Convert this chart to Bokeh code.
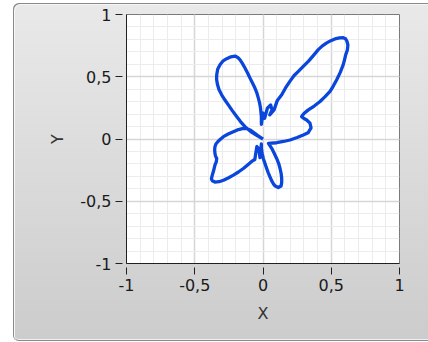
from bokeh.plotting import figure
from bokeh.models import Range1d, SingleIntervalTicker
from bokeh.embed import file_html
from bokeh.resources import INLINE

# Traced XY curve (closed butterfly-like loop), listed in drawing order
curve_x = [0.0, -0.04, -0.09, -0.132,
           -0.165, -0.193, -0.225, -0.254, -0.28, -0.303, -0.322, -0.334, -0.34, -0.339,
           -0.332, -0.315, -0.292, -0.266, -0.235, -0.205, -0.185, -0.168, -0.15, -0.132,
           -0.113, -0.095, -0.077, -0.059, -0.045, -0.034, -0.025, -0.018, -0.012, -0.012,
           0.0, 0.012, 0.032, 0.056, 0.066, 0.049, 0.081, 0.105,
           0.137, 0.165, 0.198, 0.228, 0.259, 0.295, 0.332, 0.37, 0.405, 0.435,
           0.467, 0.497, 0.527, 0.56, 0.588, 0.605, 0.615, 0.622, 0.618, 0.606,
           0.598, 0.588, 0.566, 0.54, 0.515, 0.491, 0.455, 0.418, 0.375, 0.332,
           0.3, 0.283, 0.3, 0.32, 0.344, 0.352, 0.33, 0.295, 0.25, 0.198,
           0.15, 0.1, 0.04,
           0.064, 0.082, 0.1, 0.115, 0.125, 0.133, 0.137, 0.137, 0.132, 0.112,
           0.09, 0.076, 0.062, 0.051, 0.038, 0.027, 0.014, 0.002, -0.006, -0.012,
           -0.012,
           -0.022, -0.03, -0.045, -0.06,
           -0.083, -0.115, -0.144, -0.18, -0.217, -0.255, -0.29, -0.322, -0.352, -0.372,
           -0.378, -0.372, -0.364, -0.358, -0.352, -0.342, -0.339, -0.348, -0.352, -0.354,
           -0.352, -0.345, -0.33, -0.31, -0.29, -0.255, -0.217, -0.18, -0.144, -0.12,
           -0.095, -0.065, -0.04, 0.0]
curve_y = [0.0, 0.025, 0.06, 0.099,
           0.14, 0.18, 0.228, 0.274, 0.315, 0.355, 0.395, 0.44, 0.48, 0.516,
           0.56, 0.597, 0.628, 0.645, 0.66, 0.666, 0.655, 0.635, 0.605, 0.57,
           0.53, 0.489, 0.45, 0.409, 0.37, 0.328, 0.29, 0.247, 0.18, 0.118,
           0.207, 0.167, 0.247, 0.274, 0.234, 0.194, 0.234, 0.31,
           0.355, 0.41, 0.465, 0.51, 0.543, 0.583, 0.623, 0.672, 0.718, 0.748,
           0.772, 0.79, 0.804, 0.812, 0.814, 0.805, 0.785, 0.755, 0.715, 0.677,
           0.64, 0.597, 0.535, 0.476, 0.425, 0.382, 0.34, 0.301, 0.265, 0.234,
           0.205, 0.18, 0.165, 0.153, 0.127, 0.09, 0.05, 0.032, 0.012, -0.008,
           -0.02, -0.03, -0.035,
           -0.075, -0.115, -0.156, -0.197, -0.237, -0.278, -0.317, -0.35, -0.378, -0.39,
           -0.378, -0.36, -0.332, -0.304, -0.27, -0.237, -0.196, -0.156, -0.115, -0.075,
           -0.04,
           -0.15, -0.08, -0.06, -0.165,
           -0.18, -0.21, -0.237, -0.265, -0.29, -0.313, -0.331, -0.343, -0.346, -0.335,
           -0.32, -0.292, -0.264, -0.237, -0.21, -0.182, -0.156, -0.136, -0.116, -0.088,
           -0.062, -0.04, -0.02, 0.0, 0.019, 0.04, 0.059, 0.076, 0.086, 0.084,
           0.073, 0.05, 0.03, 0.0]

tick_values = [-1, -0.5, 0, 0.5, 1]
tick_labels = ["-1", "-0,5", "0", "0,5", "1"]

FONT = "DejaVu Sans"

p = figure(width=415, height=338, output_backend="svg", toolbar_location=None,
           x_range=Range1d(-1, 1), y_range=Range1d(-1, 1),
           min_border_left=113, min_border_right=29, min_border_top=11, min_border_bottom=78,
           margin=(3, 0, 0, 13))

# grey panel behind the graph
p.border_fill_color = None
p.styles = {
    "background": "linear-gradient(#e9e9e9, #cccccc)",
    "border-radius": "6px 0 0 6px",
    "box-shadow": "inset 1px 1px 0 #8a8a8a, inset 2px 2px 0 #f6f6f6, inset 0 -1px 0 #8a8a8a, inset 0 -2px 0 #f0f0f0",
}
p.background_fill_color = "white"
p.outline_line_color = "#7a7a7a"
p.outline_line_width = 1

for ax in (p.xaxis[0], p.yaxis[0]):
    ax.ticker = SingleIntervalTicker(interval=0.5, num_minor_ticks=5)
    ax.major_label_overrides = dict(zip(tick_values, tick_labels))
    ax.major_label_text_font = FONT
    ax.major_label_text_font_size = "16px"
    ax.major_label_text_color = "#1a1a1a"
    ax.axis_label_text_font = FONT
    ax.axis_label_text_font_size = "16px"
    ax.axis_label_text_font_style = "normal"
    ax.axis_label_text_color = "#333333"
    ax.axis_line_color = "#202020"
    ax.axis_line_width = 1
    ax.major_tick_line_color = "#202020"
    ax.major_tick_line_width = 1
    ax.major_tick_in = -4
    ax.major_tick_out = 11
    ax.minor_tick_line_color = None
    ax.major_label_standoff = 4
    ax.axis_label_standoff = 10

p.xaxis.axis_label = "X"
p.yaxis.axis_label = "Y"

for g in (p.xgrid[0], p.ygrid[0]):
    g.ticker = SingleIntervalTicker(interval=0.5, num_minor_ticks=5)
    g.grid_line_color = "#d6d6d6"
    g.grid_line_width = 1.5
    g.minor_grid_line_color = "#ececec"
    g.minor_grid_line_width = 1

p.line(curve_x, curve_y, line_width=3.3, line_color="#0a46dc", line_join="round")

open("out.html", "w").write(file_html(p, INLINE))
